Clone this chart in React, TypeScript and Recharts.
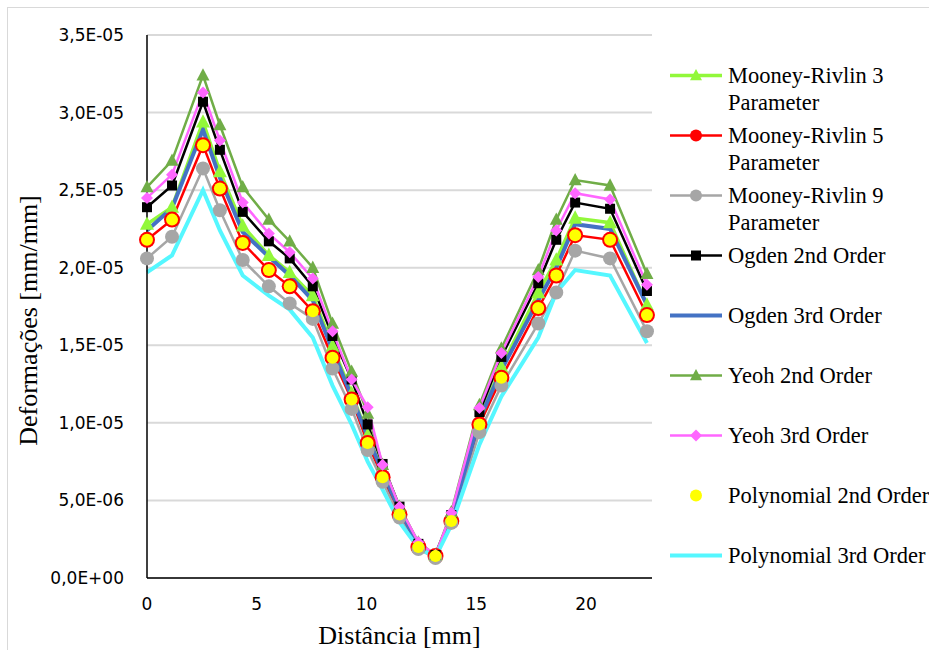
import React from "react";
import {
  ComposedChart,
  Line,
  XAxis,
  YAxis,
  CartesianGrid,
  Legend,
} from "recharts";

// distance along the path [mm]
const distance = [
  0, 1.14, 2.55, 3.32, 4.36, 5.55, 6.5, 7.55, 8.45, 9.32, 10.05, 10.73, 11.5,
  12.36, 13.14, 13.86, 15.14, 16.14, 17.82, 18.64, 19.5, 21.09, 22.77,
];

// strain values, in units of 1e-6 mm/mm
const mooneyRivlin3 = [
  22.8, 23.9, 29.4, 26.2, 22.7, 20.8, 19.7, 18.2, 14.95, 11.9, 9.2, 6.9, 4.4,
  2.1, 1.48, 3.87, 10.3, 13.6, 18.4, 20.5, 23.2, 22.9, 17.6,
];
const mooneyRivlin5 = [
  21.8, 23.1, 27.9, 25.1, 21.6, 19.85, 18.8, 17.2, 14.2, 11.5, 8.7, 6.5, 4.1,
  2.0, 1.42, 3.67, 9.9, 12.9, 17.4, 19.5, 22.1, 21.8, 16.95,
];
const mooneyRivlin9 = [
  20.6, 22.0, 26.4, 23.7, 20.5, 18.8, 17.7, 16.7, 13.5, 10.9, 8.25, 6.2, 3.9,
  1.87, 1.29, 3.55, 9.4, 12.4, 16.4, 18.4, 21.1, 20.6, 15.9,
];
const ogden2nd = [
  23.9, 25.3, 30.7, 27.6, 23.6, 21.7, 20.6, 18.8, 15.6, 12.8, 9.9, 7.35, 4.6,
  2.2, 1.48, 4.06, 10.7, 14.25, 19.0, 21.8, 24.2, 23.8, 18.5,
];
const ogden3rd = [
  22.4, 23.85, 28.9, 25.8, 22.3, 20.7, 19.5, 17.9, 14.7, 11.7, 9.1, 6.8, 4.4,
  2.1, 1.48, 3.87, 10.2, 13.4, 17.9, 20.0, 22.8, 22.5, 17.6,
];
const yeoh2nd = [
  25.2, 26.9, 32.4, 29.2, 25.2, 23.1, 21.7, 20.0, 16.4, 13.3, 10.6, 7.3, 4.6,
  2.3, 1.48, 4.25, 11.15, 14.8, 19.85, 23.1, 25.65, 25.3, 19.6,
];
const yeoh3rd = [
  24.5, 26.0, 31.3, 28.2, 24.2, 22.2, 21.0, 19.3, 15.9, 12.8, 11.0, 7.3, 4.6,
  2.3, 1.48, 4.2, 10.95, 14.5, 19.4, 22.4, 24.8, 24.4, 18.9,
];
const polynomial2nd = [
  21.8, 23.1, 27.9, 25.1, 21.6, 19.85, 18.8, 17.2, 14.2, 11.5, 8.7, 6.5, 4.1,
  2.0, 1.42, 3.67, 9.9, 12.9, 17.4, 19.5, 22.1, 21.8, 16.95,
];
const polynomial3rd = [
  19.7, 20.8, 25.0, 22.4, 19.5, 18.2, 17.3, 15.5, 12.4, 9.9, 7.5, 5.7, 3.6,
  1.93, 1.35, 3.42, 8.6, 11.7, 15.5, 18.4, 19.85, 19.5, 15.15,
];

const xTicks = [0, 5, 10, 15, 20];
const yTicks = [0, 5e-6, 1e-5, 1.5e-5, 2e-5, 2.5e-5, 3e-5, 3.5e-5];
const yTickLabels = [
  "0,0E+00",
  "5,0E-06",
  "1,0E-05",
  "1,5E-05",
  "2,0E-05",
  "2,5E-05",
  "3,0E-05",
  "3,5E-05",
];

const UNIT = 1e-6;

const data = distance.map((d, i) => ({
  d,
  mr3: mooneyRivlin3[i] * UNIT,
  mr5: mooneyRivlin5[i] * UNIT,
  mr9: mooneyRivlin9[i] * UNIT,
  og2: ogden2nd[i] * UNIT,
  og3: ogden3rd[i] * UNIT,
  ye2: yeoh2nd[i] * UNIT,
  ye3: yeoh3rd[i] * UNIT,
  po2: polynomial2nd[i] * UNIT,
  po3: polynomial3rd[i] * UNIT,
}));

type Marker = "triangle" | "circle" | "square" | "diamond" | null;

interface SeriesDef {
  key: string;
  name: string;
  color: string;
  width: number;
  marker: Marker;
  size: number;
  line: boolean;
}

const series: SeriesDef[] = [
  { key: "mr3", name: "Mooney-Rivlin 3 Parameter", color: "#92F83A", width: 3.5, marker: "triangle", size: 14, line: true },
  { key: "mr5", name: "Mooney-Rivlin 5 Parameter", color: "#FF0000", width: 2.5, marker: "circle", size: 16, line: true },
  { key: "mr9", name: "Mooney-Rivlin 9 Parameter", color: "#A6A6A6", width: 2.5, marker: "circle", size: 14, line: true },
  { key: "og2", name: "Ogden 2nd Order", color: "#000000", width: 2.5, marker: "square", size: 10, line: true },
  { key: "og3", name: "Ogden 3rd Order", color: "#4472C4", width: 4, marker: null, size: 0, line: true },
  { key: "ye2", name: "Yeoh 2nd Order", color: "#70AD47", width: 2.5, marker: "triangle", size: 13, line: true },
  { key: "ye3", name: "Yeoh 3rd Order", color: "#FF66FF", width: 2.5, marker: "diamond", size: 12, line: true },
  { key: "po2", name: "Polynomial 2nd Order", color: "#FFFF00", width: 0, marker: "circle", size: 12, line: false },
  { key: "po3", name: "Polynomial 3rd Order", color: "#55F7FF", width: 4, marker: null, size: 0, line: true },
];

function renderMarker(
  shape: Marker,
  color: string,
  s: number,
  cx: number,
  cy: number,
  key: string,
) {
  if (cx == null || cy == null) return <g key={key} />;
  const h = s / 2;
  switch (shape) {
    case "circle":
      return <circle key={key} cx={cx} cy={cy} r={h} fill={color} />;
    case "square":
      return <rect key={key} x={cx - h} y={cy - h} width={s} height={s} fill={color} />;
    case "triangle":
      return (
        <polygon
          key={key}
          points={`${cx},${cy - s * 0.55} ${cx + h},${cy + s * 0.4} ${cx - h},${cy + s * 0.4}`}
          fill={color}
        />
      );
    case "diamond":
      return (
        <polygon
          key={key}
          points={`${cx},${cy - h} ${cx + h},${cy} ${cx},${cy + h} ${cx - h},${cy}`}
          fill={color}
        />
      );
    default:
      return <g key={key} />;
  }
}

const serifFont = "'Liberation Serif', 'Times New Roman', serif";
const tickFont = "'DejaVu Sans', Verdana, sans-serif";

function LegendBox() {
  return (
    <div style={{ position: "absolute", left: 670, top: 61.5 }}>
      {series.map((s) => (
        <div key={s.key} style={{ position: "relative", height: 60 }}>
          <svg width={52} height={27} style={{ position: "absolute", left: 0, top: 0 }}>
            {s.line && (
              <line x1={0} x2={52} y1={13.5} y2={13.5} stroke={s.color} strokeWidth={s.width} />
            )}
            {renderMarker(s.marker, s.color, Math.min(s.size, 12), 26, 13.5, s.key)}
          </svg>
          <div
            style={{
              position: "absolute",
              left: 58,
              top: 0,
              width: 225,
              fontFamily: serifFont,
              fontSize: 22.5,
              lineHeight: "27px",
              color: "#000",
            }}
          >
            {s.name}
          </div>
        </div>
      ))}
    </div>
  );
}

// eslint-disable-next-line @typescript-eslint/no-explicit-any
function YTitle({ viewBox }: any) {
  const cx = 28;
  const cy = viewBox.y + viewBox.height / 2 + 14;
  return (
    <text
      x={cx}
      y={cy}
      transform={`rotate(-90, ${cx}, ${cy})`}
      textAnchor="middle"
      dominantBaseline="central"
      fontFamily={serifFont}
      fontSize={26}
      fill="#000"
    >
      Deformações [mm/mm]
    </text>
  );
}

// eslint-disable-next-line @typescript-eslint/no-explicit-any
function XTitle({ viewBox }: any) {
  const cx = viewBox.x + viewBox.width / 2;
  const cy = 635;
  return (
    <text
      x={cx}
      y={cy}
      textAnchor="middle"
      dominantBaseline="central"
      fontFamily={serifFont}
      fontSize={26}
      fill="#000"
    >
      Distância [mm]
    </text>
  );
}

export default function App() {
  return (
    <div
      style={{
        position: "absolute",
        left: 0,
        top: 0,
        width: 929,
        height: 650,
        overflow: "hidden",
        background: "#fff",
      }}
    >
      <div
        style={{
          position: "absolute",
          left: 7,
          top: 7,
          width: 960,
          height: 680,
          border: "1px solid #D9D9D9",
        }}
      />
      <ComposedChart
        width={929}
        height={650}
        data={data}
        margin={{ top: 35, right: 277, left: 0, bottom: 0 }}
        style={{ position: "absolute", left: 0, top: 0 }}
      >
        <CartesianGrid vertical={false} stroke="#D9D9D9" strokeWidth={2} />
        <XAxis
          dataKey="d"
          type="number"
          domain={[0, 23]}
          ticks={xTicks}
          height={72}
          tickLine={false}
          tickSize={0}
          tickMargin={20}
          axisLine={{ stroke: "#000", strokeWidth: 1.5 }}
          tick={{ fill: "#000", fontSize: 17, fontFamily: tickFont }}
          label={{ content: XTitle }}
        />
        <YAxis
          type="number"
          domain={[0, 3.5e-5]}
          ticks={yTicks}
          width={147}
          tickLine={false}
          tickSize={0}
          tickMargin={23}
          interval={0}
          axisLine={{ stroke: "#000", strokeWidth: 1.5 }}
          tick={{ fill: "#000", fontSize: 17, fontFamily: tickFont }}
          tickFormatter={(_v: number, i: number) => yTickLabels[i]}
          label={{ content: YTitle }}
        />
        <Legend content={() => <LegendBox />} wrapperStyle={{ position: "absolute", left: 0, top: 0, width: 0, height: 0 }} />
        {series.map((s) => (
          <Line
            key={s.key}
            dataKey={s.key}
            name={s.name}
            type="linear"
            stroke={s.line ? s.color : "none"}
            strokeWidth={s.width}
            legendType="none"
            dot={
              s.marker
                ? // eslint-disable-next-line @typescript-eslint/no-explicit-any
                  (p: any) =>
                    renderMarker(s.marker, s.color, s.size, p.cx, p.cy, `${s.key}-${p.index}`)
                : false
            }
            activeDot={false}
            isAnimationActive={false}
          />
        ))}
      </ComposedChart>
    </div>
  );
}
